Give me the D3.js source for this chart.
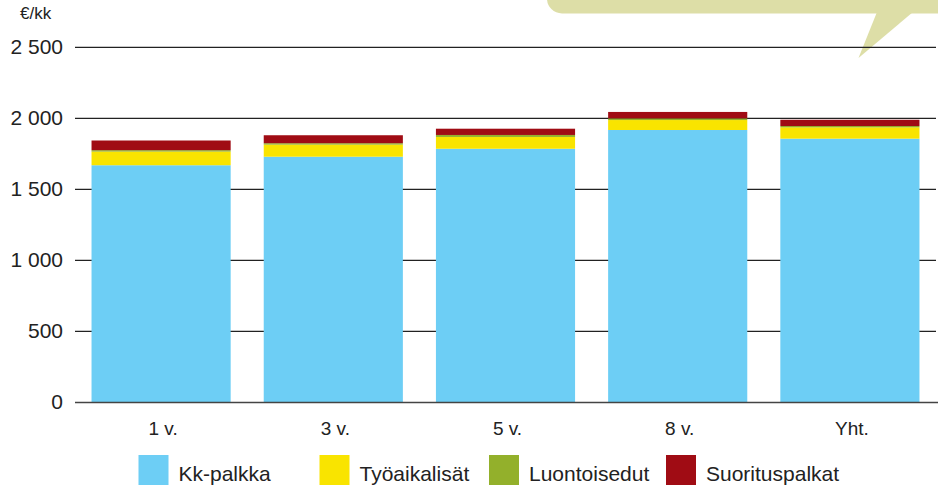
<!DOCTYPE html>
<html>
<head>
<meta charset="utf-8">
<script src="https://cdn.jsdelivr.net/npm/d3@7"></script>
<style>
  html, body { margin: 0; padding: 0; background: #fff; }
  svg { display: block; font-family: "Liberation Sans", Arial, Helvetica, sans-serif; }
</style>
</head>
<body>
<svg id="chart" width="938" height="488"></svg>
<script>
// ---- Data ----
const categories = ["1 v.", "3 v.", "5 v.", "8 v.", "Yht."];
const seriesNames = ["Kk-palkka", "Työaikalisät", "Luontoisedut", "Suorituspalkat"];
const kkPalkka       = [1670, 1730, 1786, 1918, 1857];
const tyoaikalisat   = [96, 85, 83, 70, 80];
const luontoisedut   = [10, 10, 14, 12, 9];
const suorituspalkat = [68, 56, 44, 45, 44];
const yTicks = [0, 500, 1000, 1500, 2000, 2500];
const yUnit = "€/kk";
const colors = ["#6dcef5", "#f9e400", "#93b02b", "#a00c14"];

// ---- Layout ----
const W = 938, H = 488;
const plot = { left: 75, right: 936, top: 47.3, bottom: 402.5 };
const svg = d3.select("#chart");

// decorative speech bubble (top right)
const bubble = svg.append("g").attr("fill", "#dddea7");
bubble.append("rect").attr("x", 547).attr("y", -40).attr("width", 420).attr("height", 53.5).attr("rx", 15);
bubble.append("path").attr("d", "M877,12 L858.5,58 L913,12 Z");

const table = categories.map((c, i) => ({
  cat: c,
  "Kk-palkka": kkPalkka[i],
  "Työaikalisät": tyoaikalisat[i],
  "Luontoisedut": luontoisedut[i],
  "Suorituspalkat": suorituspalkat[i]
}));
const stacked = d3.stack().keys(seriesNames)(table);

const x = d3.scaleBand().domain(categories).range([plot.left, plot.right])
  .paddingInner(0.192).paddingOuter(0.096);
const y = d3.scaleLinear().domain([0, 2500]).range([plot.bottom, plot.top]);

const locale = d3.formatLocale({ decimal: ",", thousands: " ", grouping: [3], currency: ["", " €"] });
const fmt = locale.format(",");

// gridlines
const grid = svg.append("g");
grid.selectAll("line").data(yTicks.filter(d => d !== 0)).join("line")
  .attr("x1", plot.left).attr("x2", plot.right)
  .attr("y1", d => y(d)).attr("y2", d => y(d))
  .attr("stroke", "#222").attr("stroke-width", 1.3);

// bars
svg.append("g").selectAll("g").data(stacked).join("g")
  .attr("fill", (d, i) => colors[i])
  .selectAll("rect").data(d => d).join("rect")
  .attr("x", d => x(d.data.cat))
  .attr("width", x.bandwidth())
  .attr("y", d => y(d[1]))
  .attr("height", d => y(d[0]) - y(d[1]));

// zero line
svg.append("line").attr("x1", plot.left).attr("x2", plot.right + 2)
  .attr("y1", y(0)).attr("y2", y(0))
  .attr("stroke", "#444").attr("stroke-width", 1.5);

// y axis labels
const yAxis = d3.axisLeft(y).tickValues(yTicks).tickFormat(fmt).tickSize(0).tickPadding(12);
const ya = svg.append("g").attr("transform", `translate(${plot.left},0)`).call(yAxis);
ya.select(".domain").remove();
ya.selectAll("text").attr("font-size", 21).attr("fill", "#222")
  .attr("font-family", "'Liberation Sans', Arial, sans-serif").attr("dy", "0.3em");

// unit label
svg.append("text").attr("x", 20).attr("y", 19).attr("font-size", 17).attr("fill", "#222").text(yUnit);

// x axis labels
const xAxis = d3.axisBottom(x).tickSize(0).tickPadding(19);
const xa = svg.append("g").attr("transform", `translate(0,${plot.bottom})`).call(xAxis);
xa.select(".domain").remove();
xa.selectAll("text").attr("font-size", 19).attr("fill", "#222")
  .attr("font-family", "'Liberation Sans', Arial, sans-serif").attr("dx", 2);

// legend
const legendX = [138.5, 319.5, 489, 666];
const lg = svg.append("g").selectAll("g").data(seriesNames).join("g")
  .attr("transform", (d, i) => `translate(${legendX[i]},455)`);
lg.append("rect").attr("width", 30).attr("height", 30).attr("fill", (d, i) => colors[i]);
lg.append("text").attr("x", 40).attr("y", 25.7).attr("font-size", 21).attr("fill", "#222").text(d => d);
</script>
</body>
</html>
